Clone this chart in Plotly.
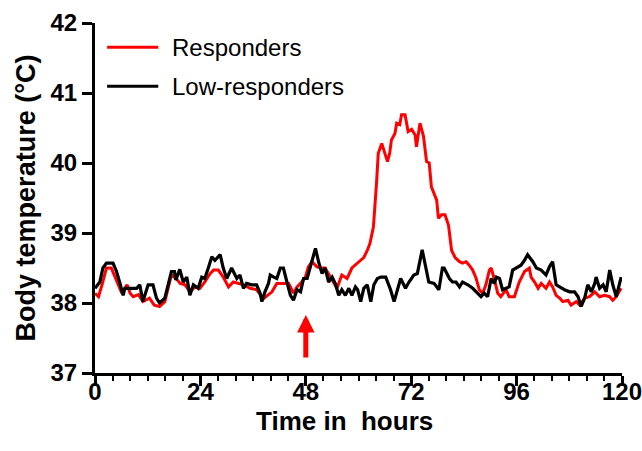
import plotly.graph_objects as go

# ---- data (hours, °C) ----
resp_t = [0, 0.8, 1.6, 2.6, 3.7, 4.9, 6.1, 7.3, 8.0, 8.7, 9.9, 10.9, 12.4, 13.5, 14.7, 15.9, 17.4, 18.5,
          19.4, 20.5, 21.6, 22.8, 23.9, 25.0, 26.2, 27.0, 28.1, 29.2, 30.4, 31.5, 32.6, 33.8, 35.3, 36.8,
          38.3, 39.5, 40.3, 41.4, 42.9, 44.1, 45.2, 46.0, 46.8, 47.9, 48.6, 49.4, 50.5, 51.3, 52.4, 53.6,
          55.1, 56.2, 57.4, 58.5, 59.3, 60.3, 61.2, 62.0, 62.6, 63.4, 64.1, 64.5, 65.3, 66.0, 66.6, 67.1,
          67.5, 68.3, 68.7, 69.4, 69.8, 70.6, 71.3, 72.1, 72.9, 73.2, 73.6, 74.0, 74.8, 75.5, 76.1, 76.6,
          77.8, 78.2, 78.9, 79.7, 80.5, 81.2, 82.0, 83.0, 83.7, 84.5, 85.2, 86.0, 86.8, 87.5, 88.3, 89.0,
          89.8, 90.2, 90.9, 91.7, 92.4, 93.6, 94.3, 95.5, 96.6, 97.8, 98.9, 99.3, 100.1, 100.9, 101.6,
          102.7, 103.5, 104.2, 105.0, 105.8, 106.5, 107.7, 108.4, 109.6, 110.4, 111.5, 112.6, 113.8,
          114.9, 116.0, 117.2, 117.9, 118.7, 119.8]
resp_temp = [38.14, 38.09, 38.26, 38.50, 38.50, 38.33, 38.14, 38.26, 38.14, 38.09, 38.12, 38.02, 38.07, 37.97,
             37.95, 38.02, 38.40, 38.35, 38.28, 38.26, 38.16, 38.23, 38.21, 38.30, 38.42, 38.47, 38.47, 38.37,
             38.23, 38.30, 38.28, 38.26, 38.21, 38.19, 38.06, 38.12, 38.16, 38.28, 38.28, 38.28, 38.14, 38.23,
             38.28, 38.37, 38.52, 38.59, 38.52, 38.50, 38.50, 38.37, 38.21, 38.40, 38.35, 38.50, 38.55, 38.60,
             38.65, 38.75, 38.85, 39.09, 39.71, 40.14, 40.28, 40.14, 40.02, 40.14, 40.33, 40.42, 40.57, 40.55,
             40.69, 40.69, 40.45, 40.48, 40.40, 40.23, 40.43, 40.57, 40.38, 40.02, 40.00, 39.66, 39.47, 39.21,
             39.26, 39.26, 39.11, 38.75, 38.65, 38.59, 38.57, 38.59, 38.54, 38.47, 38.35, 38.19, 38.14, 38.26,
             38.47, 38.50, 38.35, 38.14, 38.09, 38.19, 38.09, 38.09, 38.30, 38.45, 38.50, 38.37, 38.30, 38.21,
             38.28, 38.21, 38.30, 38.23, 38.11, 38.07, 38.02, 38.04, 37.97, 38.02, 37.97, 38.07, 38.09, 38.16,
             38.09, 38.11, 38.09, 38.04, 38.09, 38.21]

low_t = [0, 1.1, 1.8, 2.6, 4.1, 4.9, 5.6, 6.4, 6.8, 9.5, 10.2, 10.9, 12.1, 13.2, 14.0, 14.7, 15.9, 17.4, 18.1,
         18.4, 19.3, 20.1, 20.9, 21.6, 22.4, 23.5, 24.3, 25.0, 25.8, 26.6, 27.3, 28.5, 29.2, 30.0, 31.1, 32.3,
         33.0, 33.8, 34.5, 35.7, 36.8, 37.6, 38.0, 38.7, 39.5, 39.9, 40.7, 41.4, 42.2, 42.9, 43.7, 44.5, 45.2,
         46.0, 46.8, 47.5, 48.3, 49.0, 50.2, 50.9, 51.7, 52.4, 53.2, 54.0, 54.7, 55.5, 56.2, 57.0, 57.8, 58.5,
         59.3, 59.8, 60.5, 61.2, 62.0, 62.8, 63.5, 64.3, 65.1, 66.2, 67.3, 68.1, 68.8, 69.6, 70.7, 71.5, 72.6,
         73.4, 74.5, 75.3, 76.0, 77.2, 78.3, 79.1, 79.5, 80.7, 81.4, 82.2, 83.0, 83.7, 84.9, 86.0, 87.1, 87.9,
         88.6, 89.4, 90.2, 90.9, 91.4, 92.1, 92.8, 93.6, 94.3, 95.1, 95.9, 97.0, 97.8, 98.5, 99.7, 100.5,
         101.6, 102.7, 103.5, 104.2, 105.0, 105.8, 106.9, 108.1, 109.2, 110.0, 110.7, 111.5, 112.2, 113.0,
         113.8, 114.1, 114.9, 115.7, 116.4, 117.2, 117.9, 118.7, 119.8]
low_temp = [38.21, 38.30, 38.50, 38.57, 38.57, 38.45, 38.30, 38.11, 38.21, 38.21, 38.26, 38.02, 38.26, 38.26,
            38.07, 38.00, 38.07, 38.45, 38.45, 38.33, 38.48, 38.30, 38.37, 38.11, 38.26, 38.21, 38.37, 38.35,
            38.50, 38.66, 38.61, 38.69, 38.50, 38.35, 38.50, 38.35, 38.40, 38.21, 38.28, 38.26, 38.26, 38.14,
            38.02, 38.16, 38.28, 38.40, 38.37, 38.35, 38.50, 38.50, 38.30, 38.11, 38.04, 38.19, 38.16, 38.35,
            38.35, 38.50, 38.78, 38.59, 38.42, 38.50, 38.30, 38.37, 38.28, 38.11, 38.19, 38.11, 38.21, 38.11,
            38.23, 38.19, 38.02, 38.21, 38.26, 38.02, 38.26, 38.35, 38.37, 38.37, 38.19, 38.02, 38.16, 38.35,
            38.21, 38.30, 38.40, 38.42, 38.76, 38.50, 38.30, 38.28, 38.19, 38.50, 38.50, 38.35, 38.30, 38.30,
            38.23, 38.30, 38.26, 38.21, 38.14, 38.09, 38.14, 38.09, 38.35, 38.28, 38.37, 38.35, 38.19, 38.21,
            38.23, 38.47, 38.50, 38.54, 38.61, 38.69, 38.59, 38.50, 38.47, 38.40, 38.52, 38.59, 38.26, 38.23,
            38.19, 38.16, 38.16, 38.09, 37.95, 38.07, 38.26, 38.16, 38.28, 38.37, 38.21, 38.26, 38.16, 38.47,
            38.26, 38.09, 38.37]

series_names = ["Responders", "Low-responders"]
x_ticks = [0, 24, 48, 72, 96, 120]
y_ticks = [37, 38, 39, 40, 41, 42]
injection_time = 48
x_title = "Time in\u00a0\u00a0hours"
y_title = "Body temperature (°C)"

RED = "#ff0000"
BLACK = "#000000"
FONT = "Liberation Sans, Arial, sans-serif"

fig = go.Figure()
fig.add_trace(go.Scatter(x=resp_t, y=resp_temp, mode="lines", name=series_names[0],
                         line=dict(color=RED, width=3), showlegend=False))
fig.add_trace(go.Scatter(x=low_t, y=low_temp, mode="lines", name=series_names[1],
                         line=dict(color=BLACK, width=3.2), showlegend=False))

# manual legend (paper coords)
for i, (name, col) in enumerate(zip(series_names, [RED, BLACK])):
    yp = 0.931 - i * 0.112
    fig.add_shape(type="line", xref="paper", yref="paper", x0=0.023, x1=0.12, y0=yp, y1=yp,
                  line=dict(color=col, width=3))
    fig.add_annotation(xref="paper", yref="paper", x=0.142, y=yp, text=name, showarrow=False,
                       xanchor="left", yanchor="middle",
                       font=dict(family=FONT, size=24, color=BLACK))

# x-axis title as annotation (sits tight below the tick labels)
fig.add_annotation(xref="paper", yref="paper", x=0.4725, y=-0.137, text=x_title, showarrow=False,
                   xanchor="center", yanchor="middle",
                   font=dict(family=FONT, size=26, weight="bold", color=BLACK))

# injection arrow
fig.add_annotation(x=injection_time, y=37.83, ax=injection_time, ay=37.2, axref="x", ayref="y",
                   xref="x", yref="y", text="", showarrow=True, arrowhead=2, arrowsize=0.7,
                   arrowwidth=5, arrowcolor=RED)

fig.update_layout(
    width=642, height=451,
    margin=dict(l=95, r=20, t=23, b=78, autoexpand=False),
    paper_bgcolor="white", plot_bgcolor="white",
    font=dict(family=FONT, color=BLACK),
)
fig.update_xaxes(range=[0, 120], tickvals=x_ticks, ticktext=[str(v) for v in x_ticks], automargin=False,
                 showgrid=False, zeroline=False, showline=True, linecolor=BLACK, linewidth=3,
                 ticks="outside", ticklen=10, tickwidth=3, tickcolor=BLACK, ticklabelstandoff=-15,
                 ticklabeloverflow="allow",
                 minor=dict(dtick=4, tick0=0, ticks="outside", ticklen=5, tickwidth=2, tickcolor=BLACK, showgrid=False),
                 tickfont=dict(family=FONT, size=24, weight="bold", color=BLACK))
fig.update_yaxes(range=[37, 42], tickvals=y_ticks, ticktext=[str(v) for v in y_ticks], automargin=False,
                 showgrid=False, zeroline=False, showline=True, linecolor=BLACK, linewidth=3,
                 ticks="outside", ticklen=10, tickwidth=3, tickcolor=BLACK,
                 tickfont=dict(family=FONT, size=24, weight="bold", color=BLACK),
                 title=dict(text=y_title, standoff=8,
                            font=dict(family=FONT, size=27, weight="bold", color=BLACK)))

# remove the default 8px page margin so the 642x451 figure fills the window exactly
fig.write_html("out.html", config={"displayModeBar": False},
               post_script="document.body.style.margin='0';document.body.style.overflow='hidden';")
